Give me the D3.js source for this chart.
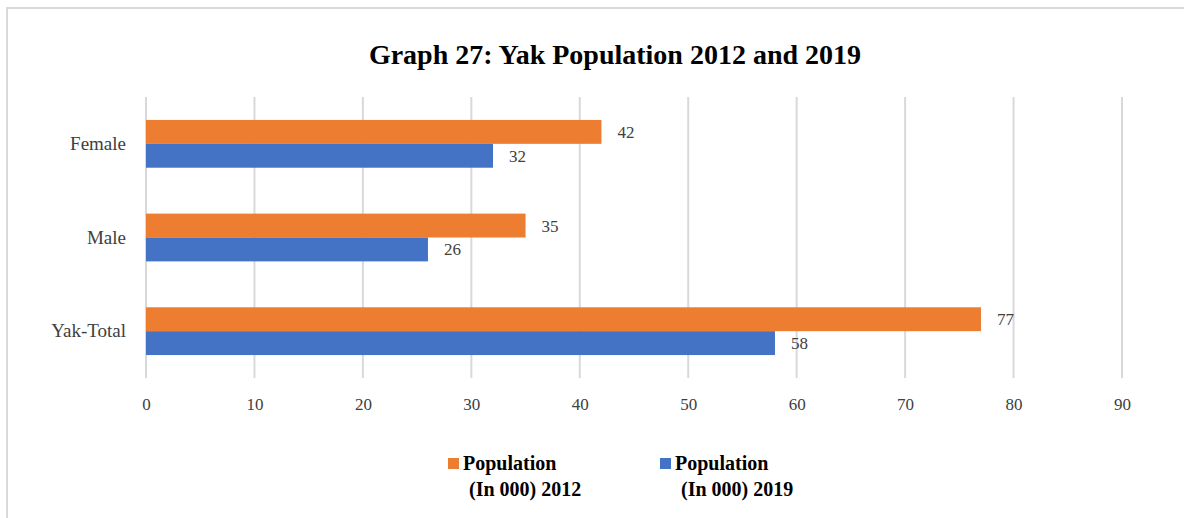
<!DOCTYPE html>
<html>
<head>
<meta charset="utf-8">
<script src="https://cdn.jsdelivr.net/npm/d3@7"></script>
<style>
  body { margin: 0; background: #fff; }
  text { font-family: "Liberation Serif", "DejaVu Serif", serif; }
</style>
</head>
<body>
<script>
// chart values
const categories = ["Female", "Male", "Yak-Total"];
const series = ["Population (In 000) 2012", "Population (In 000) 2019"];
const values2012 = [42, 35, 77];
const values2019 = [32, 26, 58];
const xTicks = [0, 10, 20, 30, 40, 50, 60, 70, 80, 90];
const colors = ["#ed7d31", "#4472c4"];

const width = 1184, height = 518;
const plotLeft = 146, plotRight = 1122, plotTop = 97, plotBottom = 378;

const svg = d3.select("body").append("svg")
  .attr("width", width)
  .attr("height", height);

// outer frame of the chart (right and bottom run off the picture)
svg.append("rect")
  .attr("x", 7).attr("y", 8)
  .attr("width", 1200).attr("height", 540)
  .attr("fill", "none")
  .attr("stroke", "#d9d9d9")
  .attr("stroke-width", 2);

svg.append("text")
  .attr("x", 615).attr("y", 64)
  .attr("text-anchor", "middle")
  .attr("font-size", 28)
  .attr("font-weight", "bold")
  .attr("fill", "#000")
  .text("Graph 27: Yak Population 2012 and 2019");

const x = d3.scaleLinear().domain([0, 90]).range([plotLeft, plotRight]);
const y = d3.scaleBand().domain(categories).range([plotTop, plotBottom]).paddingInner(0.49).paddingOuter(0.245);
const ySub = d3.scaleBand().domain(series).range([0, y.bandwidth()]);

// gridlines
svg.append("g")
  .selectAll("line")
  .data(xTicks)
  .join("line")
  .attr("x1", d => x(d)).attr("x2", d => x(d))
  .attr("y1", plotTop).attr("y2", plotBottom)
  .attr("stroke", "#d9d9d9")
  .attr("stroke-width", 2);

// x axis labels
const xAxis = svg.append("g")
  .attr("transform", `translate(0,${plotBottom})`)
  .call(d3.axisBottom(x).tickValues(xTicks).tickSize(0).tickPadding(20));
xAxis.select(".domain").remove();
xAxis.selectAll("text")
  .attr("font-family", "Liberation Serif, serif")
  .attr("font-size", 17)
  .attr("fill", "#404040");

// y axis labels
const yAxis = svg.append("g")
  .attr("transform", `translate(${plotLeft},0)`)
  .call(d3.axisLeft(y).tickSize(0).tickPadding(20));
yAxis.select(".domain").remove();
yAxis.selectAll("text")
  .attr("font-family", "Liberation Serif, serif")
  .attr("font-size", 19)
  .attr("fill", "#404040");

const rows = categories.map((c, i) => ({ cat: c, vals: [values2012[i], values2019[i]] }));

const groups = svg.append("g")
  .selectAll("g")
  .data(rows)
  .join("g")
  .attr("transform", d => `translate(0,${y(d.cat)})`);

groups.selectAll("rect")
  .data(d => d.vals.map((v, j) => ({ s: series[j], v: v, j: j })))
  .join("rect")
  .attr("x", x(0))
  .attr("y", d => ySub(d.s))
  .attr("width", d => x(d.v) - x(0))
  .attr("height", ySub.bandwidth())
  .attr("fill", d => colors[d.j]);

groups.selectAll("text.val")
  .data(d => d.vals.map((v, j) => ({ s: series[j], v: v })))
  .join("text")
  .attr("class", "val")
  .attr("x", d => x(d.v) + 16)
  .attr("y", d => ySub(d.s) + ySub.bandwidth() / 2)
  .attr("dy", "0.35em")
  .attr("font-size", 17)
  .attr("fill", "#404040")
  .text(d => d.v);

// legend
const legendX = [448, 660];
const legend = svg.append("g")
  .selectAll("g")
  .data(series)
  .join("g")
  .attr("transform", (d, i) => `translate(${legendX[i]},458)`);

legend.append("rect")
  .attr("width", 11).attr("height", 11)
  .attr("fill", (d, i) => colors[i]);

legend.append("text")
  .attr("x", 15).attr("y", 12)
  .attr("font-size", 20)
  .attr("font-weight", "bold")
  .attr("fill", "#000")
  .text("Population");

legend.append("text")
  .attr("x", 21).attr("y", 38)
  .attr("font-size", 20)
  .attr("font-weight", "bold")
  .attr("fill", "#000")
  .text(d => d.replace("Population ", ""));
</script>
</body>
</html>
